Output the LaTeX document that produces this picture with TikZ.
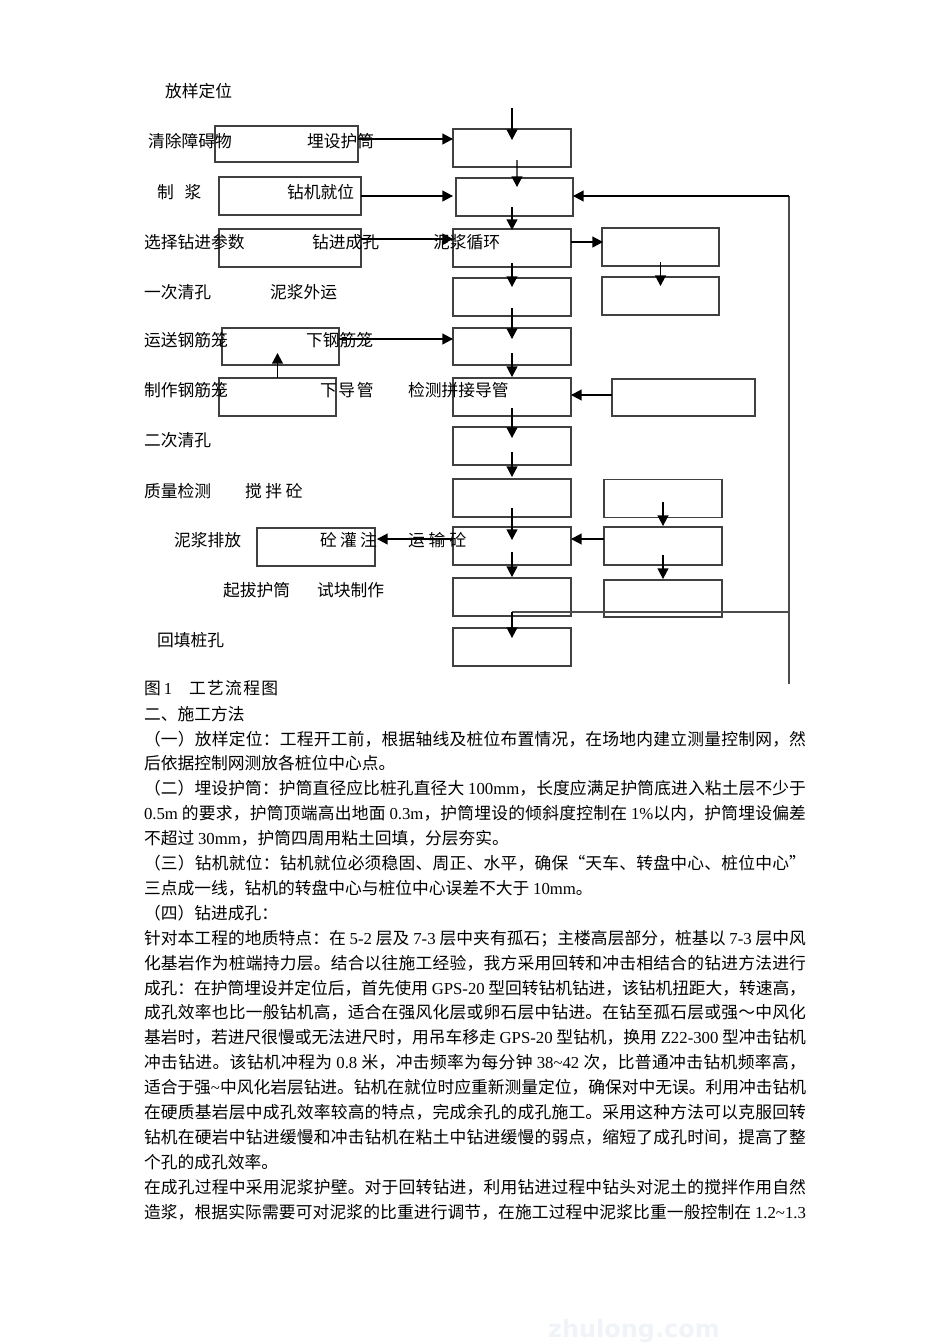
\documentclass[tikz,border=0pt]{standalone}
\usepackage{fontspec}
\setmainfont{Noto Sans CJK SC}
\newfontfamily\lat{Liberation Serif}
\newfontfamily\wmfont{DejaVu Sans}
\usetikzlibrary{arrows.meta,calc}
\newdimen\pxu \pxu=0.62663pt
\newcount\cjkcc
\def\setcjkrange#1#2{\cjkcc=#1\relax\loop\XeTeXcharclass\cjkcc=7 \advance\cjkcc by 1 \ifnum\cjkcc<#2\repeat}
\setcjkrange{"4E00}{"A000}
\setcjkrange{"3000}{"3040}
\setcjkrange{"FF00}{"FFF0}
\setcjkrange{"2018}{"2020}
\XeTeXinterchartoks 7 7 = {\hskip 0pt plus 1pt minus 0.4pt\relax}
\XeTeXinterchartokenstate=1
\newcommand\jl[1]{\hbox to 662\pxu{#1}}
\newcommand\gp[1]{\hspace{#1\pxu}}
\tikzset{
  txt/.style={anchor=base west, inner sep=0pt, outer sep=0pt, font=\fontsize{10.5pt}{12pt}\selectfont},
  box/.style={draw=black!75, line width=0.8pt, inner sep=0pt, outer sep=0pt, minimum height=38\pxu},
  arr/.style={-{Triangle[length=6.6pt,width=6.8pt]}, line width=0.7pt, black},
  fbline/.style={line width=0.9pt, black!70},
  wm/.style={inner sep=0pt, anchor=east, text={rgb,255:red,240;green,243;blue,248}, font=\wmfont\bfseries\fontsize{15pt}{15pt}\selectfont}
}
\begin{document}
\begin{tikzpicture}[x=0.62663pt,y=-0.62663pt]
\useasboundingbox (0,0) rectangle (950,1344);
\fill[white] (0,0) rectangle (950,1344);

% main column boxes
\node[box,minimum width=118\pxu] (M1) at (512,148) {};
\node[box,minimum width=117\pxu] (M2) at (514.5,197) {};
\node[box,minimum width=118\pxu] (M3) at (512,248) {};
\node[box,minimum width=118\pxu] (M4) at (512,297) {};
\node[box,minimum width=118\pxu,minimum height=37\pxu] (M5) at (512,346.5) {};
\node[box,minimum width=118\pxu] (M6) at (512,397) {};
\node[box,minimum width=118\pxu] (M7) at (512,446) {};
\node[box,minimum width=118\pxu] (M8) at (512,498) {};
\node[box,minimum width=118\pxu] (M9) at (512,546) {};
\node[box,minimum width=118\pxu] (M10) at (512,597) {};
\node[box,minimum width=118\pxu] (M11) at (512,647) {};
% right column boxes
\node[box,minimum width=117\pxu] (R1) at (660.5,247) {};
\node[box,minimum width=117\pxu] (R2) at (660.5,296) {};
\node[box,minimum width=143\pxu,minimum height=37\pxu] (R3) at (683.5,397.5) {};
\node[box,minimum width=118\pxu] (R4) at (663,498.5) {};
\node[box,minimum width=118\pxu] (R5) at (663,546) {};
\node[box,minimum width=118\pxu,minimum height=37\pxu] (R6) at (663,598.5) {};
% left boxes
\node[box,minimum width=143\pxu,minimum height=36\pxu] (A) at (286.5,144) {};
\node[box,minimum width=142\pxu] (B) at (290,196) {};
\node[box,minimum width=142\pxu] (C) at (290,248) {};
\node[box,minimum width=117\pxu,minimum height=37\pxu] (D) at (280.5,346.5) {};
\node[box,minimum width=117\pxu] (E) at (277.5,397) {};
\node[box,minimum width=118\pxu] (F) at (316,547) {};

% vertical arrows of main column
\coordinate (top) at (512,108);
\draw[arr] (top) -- ($(M1.north)+(0,11)$);
\draw[arr] ($(M1.south)+(5,-7)$) -- ($(M2.north)+(2.5,9)$);
\draw[arr] ($(M2.south)+(-2.5,-9)$) -- ($(M3.north)+(0,1)$);
\draw[arr] ($(M3.south)+(0,-4)$) -- ($(M4.north)+(0,9)$);
\draw[arr] ($(M4.south)+(0,-8)$) -- ($(M5.north)+(0,11)$);
\draw[arr] ($(M5.south)+(0,-12)$) -- ($(M6.north)+(0,-1)$);
\draw[arr] ($(M6.south)+(0,-8)$) -- ($(M7.north)+(0,11)$);
\draw[arr] ($(M7.south)+(0,-13)$) -- ($(M8.north)+(0,-2)$);
\draw[arr] ($(M8.south)+(0,-9)$) -- ($(M9.north)+(0,13)$);
\draw[arr] ($(M9.south)+(0,-13)$) -- ($(M10.north)+(0,-1)$);

% feedback line
\coordinate (fbTop) at (789,196);
\coordinate (fbBot) at (789,684);
\coordinate (fbJ) at (789,612);
\draw[fbline] (fbBot) -- (fbTop);
\draw[arr] (fbTop) -- (M2.east |- fbTop);
\draw[fbline] (fbJ) -- (fbJ -| M11.north);
\draw[arr] (fbJ -| M11.north) -- ($(M11.north)+(0,10)$);

% horizontal and side arrows
\draw[arr] ($(A.east)+(0,-5)$) -- ($(M1.west)+(0,-9)$);
\draw[arr] (B.east) -- ($(M2.west)+(-3,-1)$);
\draw[arr] ($(C.east)+(0,-9)$) -- ($(M3.west)+(0,-9)$);
\draw[arr] ($(M3.east)+(0,-6)$) -- ($(R1.west)+(1,-5)$);
\draw[arr] ($(D.east)+(0,-7.5)$) -- ($(M5.west)+(0,-7.5)$);
\draw[arr] (E.north) -- ($(D.south)+(-3,-12)$);
\draw[arr] ($(R1.south)+(0,-4)$) -- ($(R2.north)+(0,9)$);
\draw[arr] ($(R3.west)+(0,-2.5)$) -- ($(M6.east)+(0,-2)$);
\draw[arr] ($(R4.south)+(0,-16)$) -- ($(R5.north)+(0,-1)$);
\draw[arr] ($(R5.west)+(0,-7)$) -- ($(M9.east)+(0,-7)$);
\draw[arr] ($(M9.west)+(0,-7)$) -- ($(F.east)+(2,-8)$);
\draw[arr] ($(R5.south)+(0,-10)$) -- ($(R6.north)+(0,-1)$);

% diagram labels
\node[txt] (t1) at (165,97) {放样定位};
\node[txt] (t2) at (148,147) {清除障碍物};
\node[txt] (t3) at (307,147) {埋设护筒};
\node[txt] (t4) at (157,198) {制\gp{11}浆};
\node[txt] (t5) at (287,198) {钻机就位};
\node[txt] (t6) at (144,248) {选择钻进参数};
\node[txt] (t7) at (312,248) {钻进成孔};
\node[txt] (t8) at (433,248) {泥浆循环};
\node[txt] (t9) at (144,298) {一次清孔};
\node[txt] (t10) at (270,298) {泥浆外运};
\node[txt] (t11) at (144,346) {运送钢筋笼};
\node[txt] (t12) at (306,346) {下钢筋笼};
\node[txt] (t13) at (144,396) {制作钢筋笼};
\node[txt] (t14) at (320,396) {下\gp{1.7}导\gp{1.7}管};
\node[txt] (t15) at (408,396) {检测拼接导管};
\node[txt] (t16) at (144,446) {二次清孔};
\node[txt] (t17) at (144,497) {质量检测};
\node[txt] (t18) at (245,497) {搅\gp{3.7}拌\gp{3.7}砼};
\node[txt] (t19) at (174,546) {泥浆排放};
\node[txt] (t20) at (320,546) {砼\gp{3.3}灌\gp{3.3}注};
\node[txt] (t21) at (408,546) {运\gp{4}输\gp{4}砼};
\node[txt] (t22) at (223,596) {起拔护筒};
\node[txt] (t23) at (317,596) {试块制作};
\node[txt] (t24) at (157,646) {回填桩孔};

% caption and body text
\node[txt] (cap) at (144,694) {图\gp{3}{\lat 1}\gp{17}工\gp{1.3}艺\gp{1.3}流\gp{1.3}程\gp{1.3}图};
\node[txt] (h2) at (144,720) {二、施工方法};
\node[txt] (p0) at (144,745) {\jl{（一）放样定位：工程开工前，根据轴线及桩位布置情况，在场地内建立测量控制网，然}};
\node[txt] (p1) at (144,769.9) {后依据控制网测放各桩位中心点。};
\node[txt] (p2) at (144,794.8) {\jl{（二）埋设护筒：护筒直径应比桩孔直径大 {\lat 100mm}，长度应满足护筒底进入粘土层不少于}};
\node[txt] (p3) at (144,819.7) {\jl{{\lat 0.5m} 的要求，护筒顶端高出地面 {\lat 0.3m}，护筒埋设的倾斜度控制在 {\lat 1\%}以内，护筒埋设偏差}};
\node[txt] (p4) at (144,844.6) {不超过 {\lat 30mm}，护筒四周用粘土回填，分层夯实。};
\node[txt] (p5) at (144,869.5) {\jl{（三）钻机就位：钻机就位必须稳固、周正、水平，确保“天车、转盘中心、桩位中心”}};
\node[txt] (p6) at (144,894.4) {三点成一线，钻机的转盘中心与桩位中心误差不大于 {\lat 10mm}。};
\node[txt] (p7) at (144,919.3) {（四）钻进成孔：};
\node[txt] (p8) at (144,944.2) {\jl{针对本工程的地质特点：在 {\lat 5-2} 层及 {\lat 7-3} 层中夹有孤石；主楼高层部分，桩基以 {\lat 7-3} 层中风}};
\node[txt] (p9) at (144,969.1) {\jl{化基岩作为桩端持力层。结合以往施工经验，我方采用回转和冲击相结合的钻进方法进行}};
\node[txt] (p10) at (144,994) {\jl{成孔：在护筒埋设并定位后，首先使用 {\lat GPS-20} 型回转钻机钻进，该钻机扭距大，转速高，}};
\node[txt] (p11) at (144,1018.9) {\jl{成孔效率也比一般钻机高，适合在强风化层或卵石层中钻进。在钻至孤石层或强～中风化}};
\node[txt] (p12) at (144,1043.8) {\jl{基岩时，若进尺很慢或无法进尺时，用吊车移走 {\lat GPS-20} 型钻机，换用 {\lat Z22-300} 型冲击钻机}};
\node[txt] (p13) at (144,1068.7) {\jl{冲击钻进。该钻机冲程为 {\lat 0.8} 米，冲击频率为每分钟 {\lat 38\textasciitilde 42} 次，比普通冲击钻机频率高，}};
\node[txt] (p14) at (144,1093.6) {\jl{适合于强{\lat\textasciitilde}中风化岩层钻进。钻机在就位时应重新测量定位，确保对中无误。利用冲击钻机}};
\node[txt] (p15) at (144,1118.5) {\jl{在硬质基岩层中成孔效率较高的特点，完成余孔的成孔施工。采用这种方法可以克服回转}};
\node[txt] (p16) at (144,1143.4) {\jl{钻机在硬岩中钻进缓慢和冲击钻机在粘土中钻进缓慢的弱点，缩短了成孔时间，提高了整}};
\node[txt] (p17) at (144,1168.3) {个孔的成孔效率。};
\node[txt] (p18) at (144,1193.2) {\jl{在成孔过程中采用泥浆护壁。对于回转钻进，利用钻进过程中钻头对泥土的搅拌作用自然}};
\node[txt] (p19) at (144,1218.1) {\jl{造浆，根据实际需要可对泥浆的比重进行调节，在施工过程中泥浆比重一般控制在 {\lat 1.2\textasciitilde 1.3}}};

% watermark
\node[wm] (wmk) at (720,1331) {zhulong.com};
\end{tikzpicture}
\end{document}
